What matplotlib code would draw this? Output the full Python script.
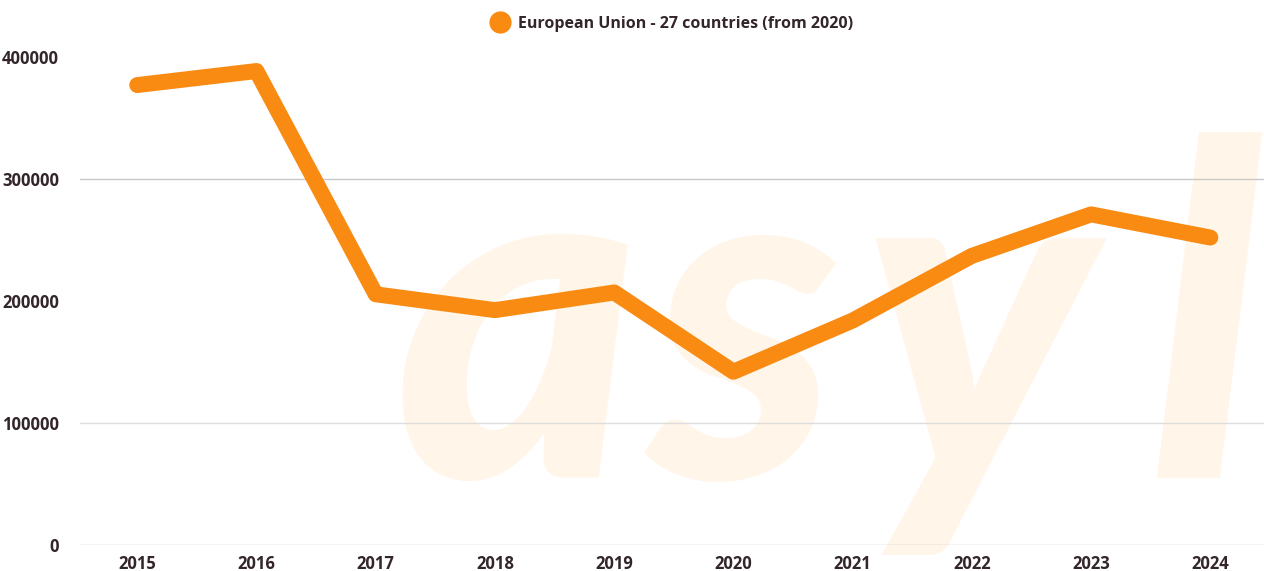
import matplotlib
matplotlib.use('Agg')
import matplotlib.pyplot as plt
from matplotlib.lines import Line2D

years = [2015, 2016, 2017, 2018, 2019, 2020, 2021, 2022, 2023, 2024]
eu27 = [377000, 388500, 205500, 192500, 207000, 142000, 184000, 237000, 271000, 252000]
series_label = 'European Union - 27 countries (from 2020)'
y_ticks = [0, 100000, 200000, 300000, 400000]

orange = '#f98a12'
text_col = '#33262a'

fig = plt.figure(figsize=(12.64, 5.71), dpi=100)
W, H = 1264, 571

# faint "asyl" watermark behind the plot, letter by letter for wider spacing
for ch, xpx in [('a', 395), ('s', 650), ('y', 862), ('l', 1148)]:
    fig.text(xpx / W, 1 - 478 / H, ch, fontsize=335, family='Lato', weight='black',
             style='italic', color='#fff5e8', ha='left', va='baseline', zorder=0)

ax = fig.add_axes([80 / W, (H - 545) / H, (W - 80) / W, (545 - 57) / H])
ax.set_zorder(1)
ax.patch.set_alpha(0)

ax.plot(years, eu27, color=orange, lw=11.5, solid_joinstyle='round',
        solid_capstyle='round', clip_on=False)

ax.set_xlim(2014.52, 2024.45)
ax.set_ylim(0, 400000)
ax.set_xticks(years)
ax.set_yticks(y_ticks)
ax.set_yticklabels([str(v) for v in y_ticks])

# only some of the gridlines show up
for v, c in [(0, '#c4c4c4'), (100000, '#dddddd'), (300000, '#c8c8c8')]:
    ax.axhline(v, color=c, lw=1.0, zorder=0.5)

for s in ax.spines.values():
    s.set_visible(False)
ax.tick_params(length=0)
ax.tick_params(axis='y', pad=15)
ax.tick_params(axis='x', pad=7)
for lab in ax.get_xticklabels() + ax.get_yticklabels():
    lab.set_family('Open Sans')
    lab.set_weight('bold')
    lab.set_fontsize(12)
    lab.set_color(text_col)

handle = Line2D([], [], ls='none', marker='o', markersize=15, color=orange)
leg = fig.legend([handle], [series_label], loc='center', bbox_to_anchor=(672 / W, 1 - 24 / H),
                 frameon=False, handletextpad=0.5, handlelength=1.2,
                 prop={'family': 'Open Sans', 'weight': 'bold', 'size': 11.5})
for t in leg.get_texts():
    t.set_color(text_col)

fig.savefig('out.png', dpi=100)
